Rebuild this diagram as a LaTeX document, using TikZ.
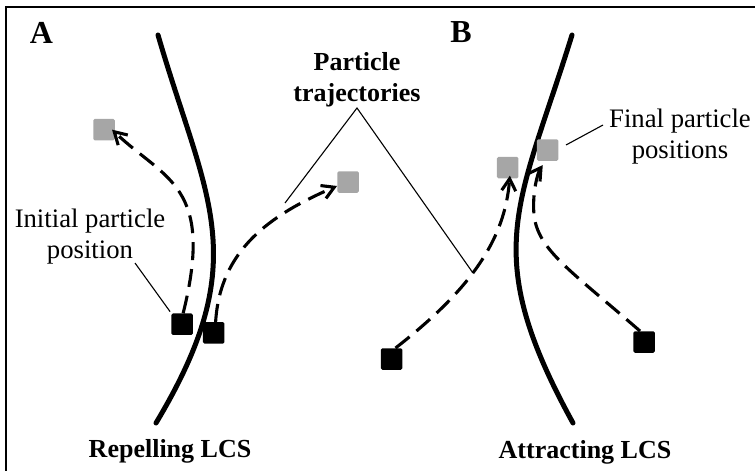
\documentclass[tikz,border=0pt]{standalone}
\usepackage{fontspec}
\setmainfont{Liberation Serif}
\usetikzlibrary{arrows.meta}
\definecolor{fingray}{RGB}{166,166,166}
\begin{document}
\begin{tikzpicture}[x=1pt,y=-1pt,
  frame/.style={line width=1.8pt},
  lcs/.style={line width=5pt, line cap=round},
  sq/.style={rectangle, minimum size=21.5pt, inner sep=0pt, rounded corners=1.5pt},
  ini/.style={sq, fill=black},
  fin/.style={sq, fill=fingray},
  traj/.style={line width=3.1pt, dash pattern=on 18pt off 9pt,
    -{Straight Barb[length=12pt,width=14pt]}},
  lead/.style={line width=1.1pt},
  lbl/.style={font=\fontsize{26.7}{31}\selectfont, inner sep=0pt, anchor=base, align=center},
  blbl/.style={lbl, font=\fontsize{26}{31}\selectfont\bfseries},
  plbl/.style={lbl, font=\fontsize{32}{36}\selectfont\bfseries}]
\useasboundingbox (0,0) rectangle (755,471);
% frame
\draw[frame] (6,471) -- (6,7) -- (755,7);
% LCS curves
\draw[lcs] (158,35) .. controls (206,200) and (255,258) .. (156,423);
\draw[lcs] (572,35) .. controls (518.7,207) and (478.4,251) .. (573,423);
% squares
\node[fin] (g1) at (104,129.5) {};
\node[fin] (g2) at (348,182) {};
\node[fin] (g3) at (507.7,167.7) {};
\node[fin] (g4) at (547.5,150) {};
\node[ini] (b1) at (182.2,324.2) {};
\node[ini] (b2) at (213.7,332.8) {};
\node[ini] (b3) at (391.5,359) {};
\node[ini] (b4) at (644,342) {};
% trajectories
\draw[traj, shorten >=-4pt] (b1.85) .. controls (215,185) and (165,180) .. (g1.-15);
\draw[traj] (b2.80) .. controls (220,250) and (270,215) .. (g2.200);
\draw[traj, shorten >=-3pt] (b3.70) .. controls (470,290) and (505,240) .. (g3.-80);
\draw[traj, shorten >=5pt] (b4.110) .. controls (570,270) and (538,250) .. (534,215)
  .. controls (532,192) and (538,172) .. (g4.-100);
% labels
\node[plbl] (lA) at (41.5,43) {A};
\node[plbl] (lB) at (461,42) {B};
\node[blbl] (lPT) at (357,101) {Particle\\trajectories};
\node[lbl] (lIP) at (90,258) {Initial particle\\position};
\node[lbl] (lFP) at (680,158) {Final particle\\positions};
\node[blbl] (lR) at (170,457) {Repelling LCS};
\node[blbl] (lAt) at (585,458) {Attracting LCS};
% leaders
\coordinate (apex) at (357,108);
\coordinate (pt1) at (285,203);
\coordinate (pt2) at (473,273);
\draw[lead] (pt1) -- (apex) -- (pt2);
\coordinate (ip) at (135,263);
\draw[lead, shorten >=2pt] (ip) -- (b1.north west);
\coordinate (fp) at (603,125);
\coordinate (fpe) at (566,145);
\draw[lead] (fp) -- (fpe);
\end{tikzpicture}
\end{document}
